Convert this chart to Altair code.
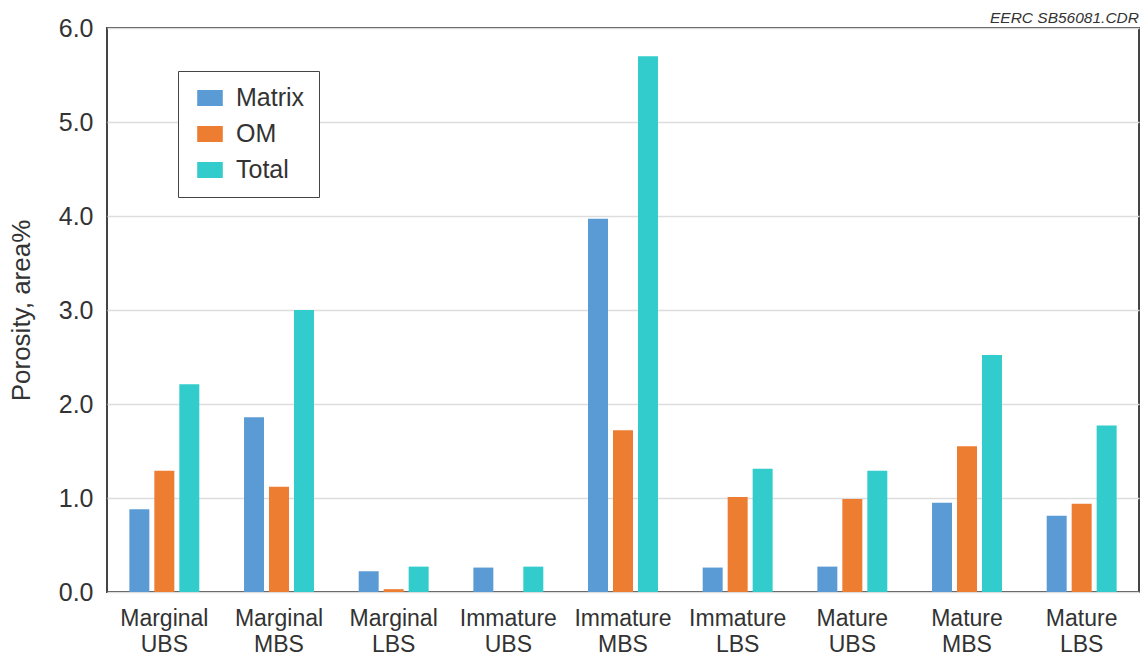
import altair as alt
import pandas as pd

# Sample groups (maturity + member) and porosity by pore type, area%
groups = ["Marginal UBS", "Marginal MBS", "Marginal LBS",
          "Immature UBS", "Immature MBS", "Immature LBS",
          "Mature UBS", "Mature MBS", "Mature LBS"]
matrix = [0.88, 1.86, 0.22, 0.26, 3.97, 0.26, 0.27, 0.95, 0.81]
om     = [1.29, 1.12, 0.03, 0.00, 1.72, 1.01, 0.99, 1.55, 0.94]
total  = [2.21, 3.00, 0.27, 0.27, 5.70, 1.31, 1.29, 2.52, 1.77]

series = ["Matrix", "OM", "Total"]
colors = ["#5B9BD5", "#ED7D31", "#33CCCC"]
y_ticks = [0, 1, 2, 3, 4, 5, 6]

rows = []
for name, vals in zip(series, [matrix, om, total]):
    for g, v in zip(groups, vals):
        rows.append({"group": g, "type": name, "porosity": v})
df = pd.DataFrame(rows)

FONT = "Liberation Sans"

chart = alt.Chart(df).mark_bar().encode(
    x=alt.X("group:N", sort=groups,
            scale=alt.Scale(paddingInner=0.39, paddingOuter=0.195),
            axis=alt.Axis(title=None, labelAngle=0, ticks=False, tickSize=0,
                          domain=False, labelPadding=15, labelFontSize=23,
                          labelLineHeight=26, labelColor="#333333",
                          labelFont=FONT,
                          labelExpr="split(datum.label, ' ')")),
    xOffset=alt.XOffset("type:N", sort=series,
                        scale=alt.Scale(paddingInner=0.2)),
    y=alt.Y("porosity:Q",
            scale=alt.Scale(domain=[0, 6], nice=False),
            axis=alt.Axis(title="Porosity, area%", values=y_ticks,
                          format=".1f", ticks=False, tickSize=0,
                          domain=False, grid=True, gridColor="#dddddd",
                          gridWidth=1.5, labelPadding=14, labelFontSize=25,
                          labelColor="#333333", labelFont=FONT,
                          titleFont=FONT, titleFontSize=26,
                          titleFontWeight="normal", titleColor="#333333",
                          titlePadding=24)),
    color=alt.Color("type:N", sort=series,
                    scale=alt.Scale(domain=series, range=colors),
                    legend=alt.Legend(title=None, orient="none",
                                      legendX=71, legendY=43,
                                      padding=14, strokeColor="#444444",
                                      fillColor="white",
                                      labelFont=FONT, labelFontSize=25,
                                      labelColor="#333333", labelOffset=13,
                                      labelExpr="datum.label + '  '",
                                      rowPadding=10, symbolOffset=5,
                                      symbolType="M-1,-0.625H1V0.625H-1Z",
                                      symbolSize=655, symbolStrokeWidth=0,
                                      symbolOpacity=1)),
).properties(
    width=1032,
    height=564,
    title=alt.TitleParams("EERC SB56081.CDR", anchor="end", fontSize=15.5,
                          fontStyle="italic", fontWeight="normal",
                          font=FONT, color="#333333", offset=-10),
    autosize=alt.AutoSizeParams(type="none"),
    padding={"left": 107, "top": 28, "right": 4, "bottom": 64},
    background="white",
).configure_view(
    stroke="#444444", strokeWidth=2
)

chart.save("out.html", embed_options={"renderer": "svg", "actions": False})
